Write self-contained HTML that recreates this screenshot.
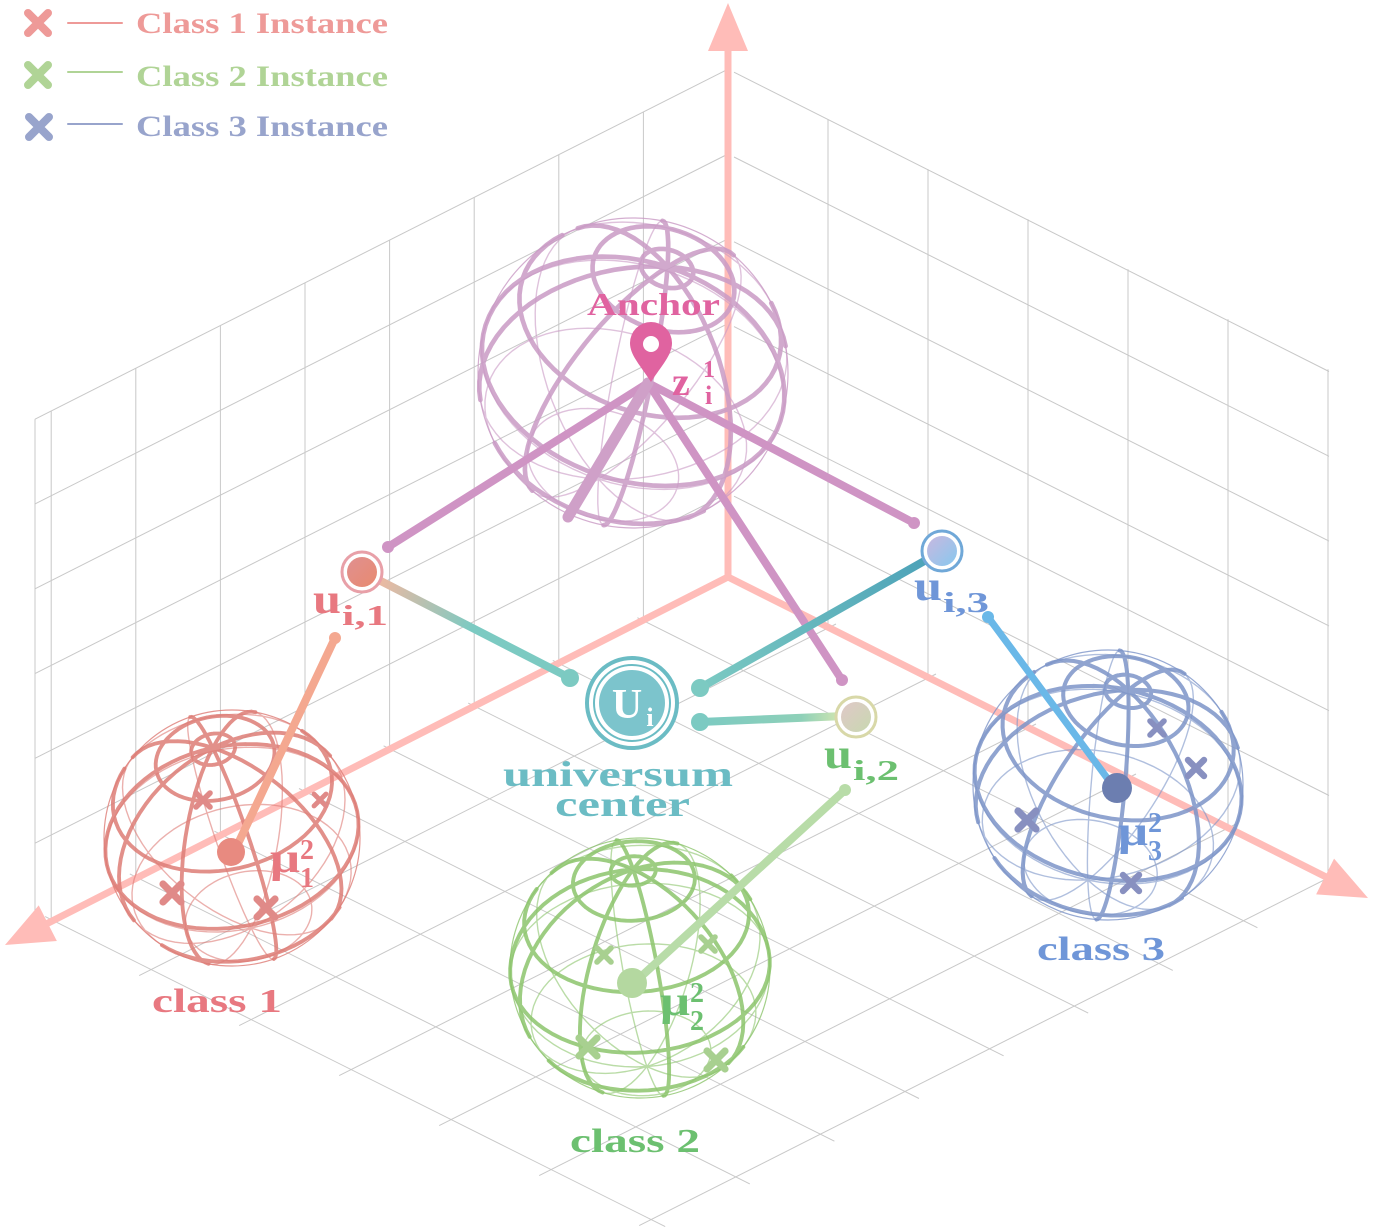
<!DOCTYPE html>
<html><head><meta charset="utf-8"><style>
html,body{margin:0;padding:0;background:#fff;}
svg{display:block}
text{font-family:"Liberation Serif",serif;font-weight:bold}
</style></head><body>
<svg id="s" width="1373" height="1229" viewBox="0 0 1373 1229" xmlns="http://www.w3.org/2000/svg">
<defs>
<linearGradient id="g1" x1="375" y1="578" x2="570" y2="678" gradientUnits="userSpaceOnUse"><stop offset="0" stop-color="#f2b8a0"/><stop offset="0.5" stop-color="#7ccac2"/><stop offset="1" stop-color="#7ccac2"/></linearGradient>
<linearGradient id="g2" x1="942" y1="551" x2="700" y2="688" gradientUnits="userSpaceOnUse"><stop offset="0" stop-color="#4aa0b8"/><stop offset="1" stop-color="#7ccac2"/></linearGradient>
<linearGradient id="g3" x1="700" y1="722" x2="845" y2="716" gradientUnits="userSpaceOnUse"><stop offset="0" stop-color="#7ccac2"/><stop offset="0.7" stop-color="#8ed0b8"/><stop offset="1" stop-color="#d8e8b0"/></linearGradient>
<linearGradient id="n3" x1="0" y1="0" x2="1" y2="1"><stop offset="0" stop-color="#c8b8e0"/><stop offset="1" stop-color="#88c8ee"/></linearGradient>
<linearGradient id="n2" x1="0" y1="0" x2="1" y2="1"><stop offset="0" stop-color="#e0c8c8"/><stop offset="1" stop-color="#c8d8b0"/></linearGradient>
<linearGradient id="n1" x1="0" y1="0" x2="1" y2="1"><stop offset="0" stop-color="#e09090"/><stop offset="1" stop-color="#e88a70"/></linearGradient>
</defs>
<g id="grid" stroke="#c8c8c8" stroke-width="1" fill="none"></g>
<g id="axes"></g>
<g id="spheres"></g>
<g id="fg"></g>
</svg>
<script>
var NS="http://www.w3.org/2000/svg";
function el(parent,tag,attrs,txt){var e=document.createElementNS(NS,tag);for(var k in attrs)e.setAttribute(k,attrs[k]);if(txt!==undefined)e.textContent=txt;parent.appendChild(e);return e;}
var grid=document.getElementById('grid');
var O=[728,578];
var LX=-84.6,LY=42.7,RX=100,RY=50,H=84.8;
function line(g,x1,y1,x2,y2){el(g,'line',{x1:x1,y1:y1,x2:x2,y2:y2});}
for(var k=1;k<=6;k++){var y0=O[1]-H*k;line(grid,O[0],y0,35,y0+0.505*(O[0]-35));}
for(var k=1;k<=8;k++){var x=O[0]+LX*k,yb=O[1]+LY*k;line(grid,x,yb,x,yb-6*H);}
line(grid,35,O[1]+0.505*(O[0]-35),35,O[1]+0.505*(O[0]-35)-6*H);
for(var k=1;k<=6;k++){var y0=O[1]-H*k;line(grid,734,y0+3,1329,y0+0.503*(1329-728));}
for(var j=1;j<=6;j++){var x=O[0]+RX*j,yb=O[1]+RY*j;line(grid,x,yb,x,yb-6*H);}
for(var k=1;k<=8;k++){var sx=O[0]+LX*k,sy=O[1]+LY*k;line(grid,sx-6,sy-3,sx+RX*6+14,sy+RY*6+7);}
for(var j=1;j<=6;j++){var sx=O[0]+RX*j,sy=O[1]+RY*j;line(grid,sx+8,sy-4,sx+LX*8-12,sy+LY*8+6);}
var ax=document.getElementById('axes');
function arrow(x1,y1,x2,y2){var dx=x2-x1,dy=y2-y1,L=Math.hypot(dx,dy),ux=dx/L,uy=dy/L;var bx=x2-ux*48,by=y2-uy*48;
el(ax,'line',{x1:x1,y1:y1,x2:bx+ux*5,y2:by+uy*5,stroke:'#ffbcb8','stroke-width':7});
el(ax,'polygon',{points:x2+','+y2+' '+(bx-uy*20)+','+(by+ux*20)+' '+(bx+uy*20)+','+(by-ux*20),fill:'#ffbcb8'});}
arrow(728,581,728,3);arrow(726,578,5,945);arrow(730,578,1368,898);
var sp=document.getElementById('spheres');
function sphere(cx,cy,r,col,rot,c){var s=Math.sqrt(1-c*c);var front='',back='';var ra=rot*Math.PI/180;
function proj(p){var x=p[0],y=p[1],z=p[2];
 var Y=y*c - z*s, Z=y*s + z*c; var sx=x,sy=-Y;
 var rx=sx*Math.cos(ra)-sy*Math.sin(ra),ry=sx*Math.sin(ra)+sy*Math.cos(ra);
 return [cx+rx*r,cy+ry*r,Z];}
function curve(f){var N=72,prev=null;for(var i=0;i<=N;i++){var t=i/N*2*Math.PI;var q=proj(f(t));if(prev){var seg='M'+prev[0].toFixed(1)+' '+prev[1].toFixed(1)+'L'+q[0].toFixed(1)+' '+q[1].toFixed(1);if(prev[2]+q[2]>0)front+=seg;else back+=seg;}prev=q;}}
[-60,-30,0,30,62,80].forEach(function(d){var f=d*Math.PI/180;curve(function(t){return [Math.cos(f)*Math.cos(t),Math.sin(f),Math.cos(f)*Math.sin(t)];});});
[0,40,80,120,160].forEach(function(d){var l=d*Math.PI/180;curve(function(t){return [Math.cos(t)*Math.cos(l),Math.sin(t),Math.cos(t)*Math.sin(l)];});});
el(sp,'circle',{cx:cx,cy:cy,r:r,fill:'none',stroke:col,'stroke-width':1.2,opacity:0.8});
el(sp,'path',{d:back,fill:'none',stroke:col,'stroke-width':1.4,opacity:0.6,'stroke-linecap':'round'});
el(sp,'path',{d:front,fill:'none',stroke:col,'stroke-width':r*0.03,opacity:0.85,'stroke-linecap':'round'});}
sphere(633,373,155,'#c99ac4',18,0.72);
sphere(232,838,128,'#dd7c76',-12,0.72);
sphere(640,968,130,'#8cc46c',-4,0.76);
sphere(1108,785,135,'#7c94c8',12,0.72);
var fg=document.getElementById('fg');
function L(x1,y1,x2,y2,col,w,dot){el(fg,'line',{x1:x1,y1:y1,x2:x2,y2:y2,stroke:col,'stroke-width':w,'stroke-linecap':'round'});if(dot)el(fg,'circle',{cx:dot[0],cy:dot[1],r:dot[2],fill:dot[3]||col});}
L(648,383,388,547,'#cf94c4',8,[388,547,6]);
L(648,383,914,523,'#cf94c4',8,[914,523,6]);
L(648,383,842,680,'#cf94c4',8,[842,680,6]);
L(648,383,568,517,'#cfa0c8',11);
L(375,578,570,678,'url(#g1)',8,[570,678,9,'#7ccac2']);
L(942,551,700,688,'url(#g2)',8,[700,688,9,'#7ccac2']);
L(700,722,845,716,'url(#g3)',8,[700,722,9,'#7ccac2']);
L(335,638,236,848,'#f4a890',8,[335,638,6]);
L(845,790,634,983,'#b8dca8',8,[845,790,6]);
L(988,617,1116,790,'#6ab8e8',7,[988,617,6]);
el(fg,'circle',{cx:231,cy:852,r:14,fill:'#e88a80'});
el(fg,'circle',{cx:632,cy:983,r:15,fill:'#b4d8a0'});
el(fg,'circle',{cx:1117,cy:788,r:15,fill:'#6c7eb0'});
function node(x,y,fill,ring){el(fg,'circle',{cx:x,cy:y,r:20,fill:'#fff',stroke:ring,'stroke-width':3});el(fg,'circle',{cx:x,cy:y,r:15,fill:fill});}
node(362,572,'url(#n1)','#e8a0a8');
node(942,551,'url(#n3)','#70a8d8');
node(856,717,'url(#n2)','#d8d8a8');
el(fg,'circle',{cx:632,cy:703,r:45,fill:'#fff',stroke:'#6bbcc4','stroke-width':4});
el(fg,'circle',{cx:632,cy:703,r:38,fill:'#fff',stroke:'#6bbcc4','stroke-width':2});
el(fg,'circle',{cx:632,cy:703,r:33,fill:'#7cc4cc'});
el(fg,'text',{x:627,y:718,'font-size':42,fill:'#fff','text-anchor':'middle'},'U');
el(fg,'text',{x:650,y:726,'font-size':26,fill:'#fff','text-anchor':'middle'},'i');
function T(x,y,fs,col,s,len,anchor){var a={x:x,y:y,'font-size':fs,fill:col};if(len){a.textLength=len;a.lengthAdjust='spacingAndGlyphs';}if(anchor)a['text-anchor']=anchor;el(fg,'text',a,s);}
T(503,786,36,'#6bbcc4','universum',230);
T(555,816,36,'#6bbcc4','center',135);
el(fg,'path',{d:'M651 382 C640 365 630 355 630 343 A21 21 0 1 1 672 343 C672 355 662 365 651 382Z',fill:'#e063a0'});
el(fg,'circle',{cx:651,cy:344,r:8,fill:'#fff'});
T(587,315,32,'#e063a0','Anchor',133);
T(672,395,40,'#e063a0','z');
T(703,377,24,'#e063a0','1');
T(705,404,26,'#e063a0','i');
function ulab(x,y,col,sub){T(x,y,42,col,'u',28);T(x+29,y+12,28,col,sub,46);}
ulab(313,613,'#e87880','i,1');
ulab(914,600,'#6f96d8','i,3');
ulab(824,768,'#6cc070','i,2');
function mlab(x,y,col,n){T(x,y,42,col,'μ',30);T(x+30,y-13,28,col,'2');T(x+30,y+15,28,col,n);}
mlab(270,872,'#e87880','1');
mlab(660,1015,'#6cc070','2');
mlab(1118,845,'#6f96d8','3');
T(152,1012,34,'#e87880','class 1',130);
T(570,1152,34,'#6cc070','class 2',130);
T(1037,960,34,'#6f96d8','class 3',128);
function X(x,y,col,s){el(fg,'path',{d:'M'+(x-s)+' '+(y-s)+'L'+(x+s)+' '+(y+s)+'M'+(x+s)+' '+(y-s)+'L'+(x-s)+' '+(y+s),stroke:col,'stroke-width':s*0.8,'stroke-linecap':'round',fill:'none'});}
X(203,800,'#e08a88',7);X(320,800,'#e08a88',6);X(172,893,'#e08a88',9);X(266,908,'#e08a88',9);
X(604,955,'#a8d090',7);X(708,944,'#a8d090',7);X(588,1047,'#a8d090',9);X(716,1060,'#a8d090',9);
X(1157,728,'#8890c0',7);X(1196,768,'#8890c0',8);X(1027,820,'#8890c0',9);X(1131,883,'#8890c0',8);
X(38,23,'#ee9a98',10);X(38,75,'#b0d496',10);X(39,127,'#98a4cc',10);
L(68,23,122,23,'#ee9a98',2);L(68,72,122,72,'#b0d496',2);L(68,124,122,124,'#98a4cc',2);
T(136,33,30,'#ee9a98','Class 1 Instance',252);
T(136,86,30,'#b0d496','Class 2 Instance',252);
T(136,136,30,'#98a4cc','Class 3 Instance',252);
</script>
</body></html>
